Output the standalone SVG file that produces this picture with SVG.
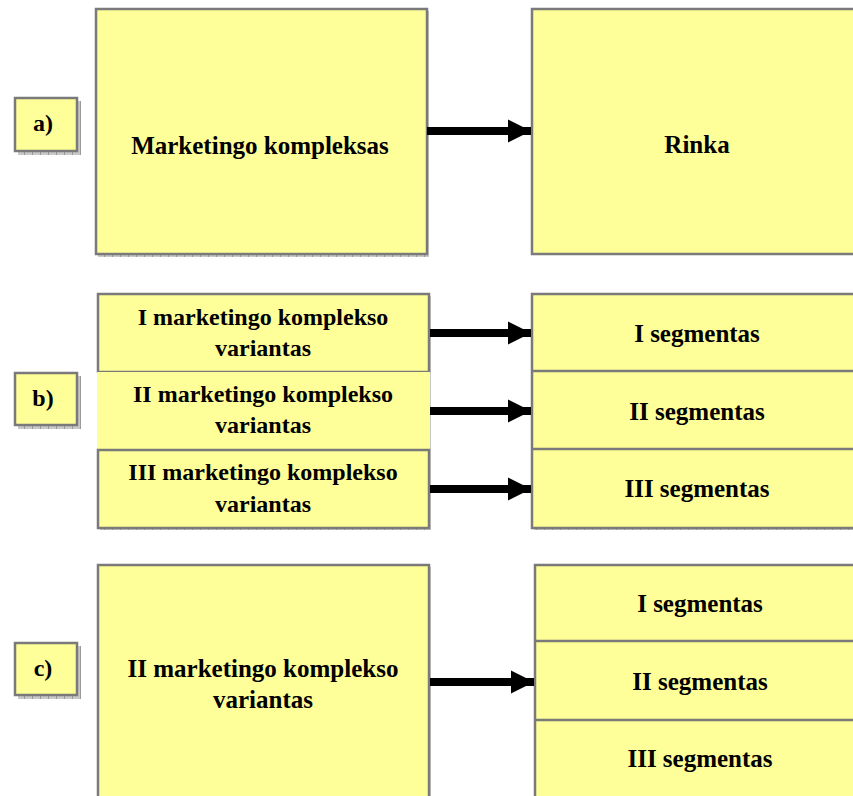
<svg xmlns="http://www.w3.org/2000/svg" width="853" height="796" viewBox="0 0 853 796">
<defs>
<pattern id="sh" width="8" height="4" patternUnits="userSpaceOnUse">
<rect width="8" height="4" fill="#c8c8c8"/>
<rect x="0" y="0" width="1" height="4" fill="#9a9a9a"/>
</pattern>
<marker id="ah" viewBox="0 0 10 10" refX="10" refY="5" markerWidth="2.9" markerHeight="2.9" orient="auto" markerUnits="strokeWidth">
<path d="M0,0 L10,5 L0,10 Z" fill="#000"/>
</marker>
</defs>
<style>
.box{fill:#ffff99;stroke:#7a7a7a;stroke-width:2.5}
.fill{fill:#ffff99}
.div{stroke:#7a7a7a;stroke-width:2.5}
.sh{fill:url(#sh)}
.t{font-family:"Liberation Serif","Times New Roman",serif;font-weight:bold;font-size:25px;fill:#000;text-anchor:middle}
.tb{font-family:"Liberation Serif","Times New Roman",serif;font-weight:bold;font-size:24px;fill:#000;text-anchor:middle}
.lt{font-family:"Liberation Serif","Times New Roman",serif;font-weight:bold;font-size:24px;fill:#000;text-anchor:middle}
.arr{stroke:#000;stroke-width:8;fill:none}
</style>

<g id="label-a">
<rect class="sh" x="18" y="101" width="63" height="54"/>
<rect class="box" x="15" y="98" width="62" height="53"/>
<text class="lt" x="43" y="131">a)</text>
</g>
<g id="node-marketingo-kompleksas">
<rect class="sh" x="98" y="11" width="331" height="246"/>
<rect class="box" x="96" y="9" width="331" height="245"/>
<text class="t" x="260" y="154">Marketingo kompleksas</text>
</g>
<g id="node-rinka">
<rect class="box" x="532" y="9" width="330" height="245"/>
<text class="t" x="697" y="153">Rinka</text>
</g>

<g id="label-b">
<rect class="sh" x="18" y="376" width="63" height="53"/>
<rect class="box" x="15" y="373" width="62" height="52"/>
<text class="lt" x="43" y="406">b)</text>
</g>
<g id="node-b-variant-1">
<rect class="sh" x="100" y="296" width="331" height="234"/>
<rect class="box" x="98" y="294" width="331" height="78"/>
<text class="tb" x="263" y="325">I marketingo komplekso</text>
<text class="tb" x="263" y="356">variantas</text>
</g>
<g id="node-b-variant-2">
<rect class="fill" x="97" y="372" width="333" height="77"/>
<text class="tb" x="263" y="402">II marketingo komplekso</text>
<text class="tb" x="263" y="433">variantas</text>
</g>
<g id="node-b-variant-3">
<rect class="box" x="98" y="450" width="331" height="78"/>
<text class="tb" x="263" y="480">III marketingo komplekso</text>
<text class="tb" x="263" y="512">variantas</text>
</g>
<g id="node-b-segments">
<rect class="sh" x="534" y="296" width="330" height="234"/>
<rect class="box" x="532" y="294" width="330" height="234"/>
<line class="div" x1="532" y1="371" x2="853" y2="371"/>
<line class="div" x1="532" y1="449" x2="853" y2="449"/>
<text class="t" x="697" y="342">I segmentas</text>
<text class="t" x="697" y="420">II segmentas</text>
<text class="t" x="697" y="497">III segmentas</text>
</g>

<g id="label-c">
<rect class="sh" x="18" y="646" width="63" height="53"/>
<rect class="box" x="15" y="643" width="62" height="52"/>
<text class="lt" x="43" y="676">c)</text>
</g>
<g id="node-c-variant-2">
<rect class="sh" x="100" y="567" width="331" height="240"/>
<rect class="box" x="98" y="565" width="331" height="240"/>
<text class="t" x="263" y="677">II marketingo komplekso</text>
<text class="t" x="263" y="708">variantas</text>
</g>
<g id="node-c-segments">
<rect class="box" x="535" y="565" width="330" height="240"/>
<line class="div" x1="535" y1="641" x2="853" y2="641"/>
<line class="div" x1="535" y1="720" x2="853" y2="720"/>
<text class="t" x="700" y="612">I segmentas</text>
<text class="t" x="700" y="690">II segmentas</text>
<text class="t" x="700" y="767">III segmentas</text>
</g>

<g id="connectors">
<line class="arr" x1="427" y1="131" x2="531" y2="131" marker-end="url(#ah)"/>
<line class="arr" x1="430" y1="333" x2="531" y2="333" marker-end="url(#ah)"/>
<line class="arr" x1="430" y1="411" x2="531" y2="411" marker-end="url(#ah)"/>
<line class="arr" x1="430" y1="489" x2="531" y2="489" marker-end="url(#ah)"/>
<line class="arr" x1="430" y1="682" x2="534" y2="682" marker-end="url(#ah)"/>
</g>
</svg>
